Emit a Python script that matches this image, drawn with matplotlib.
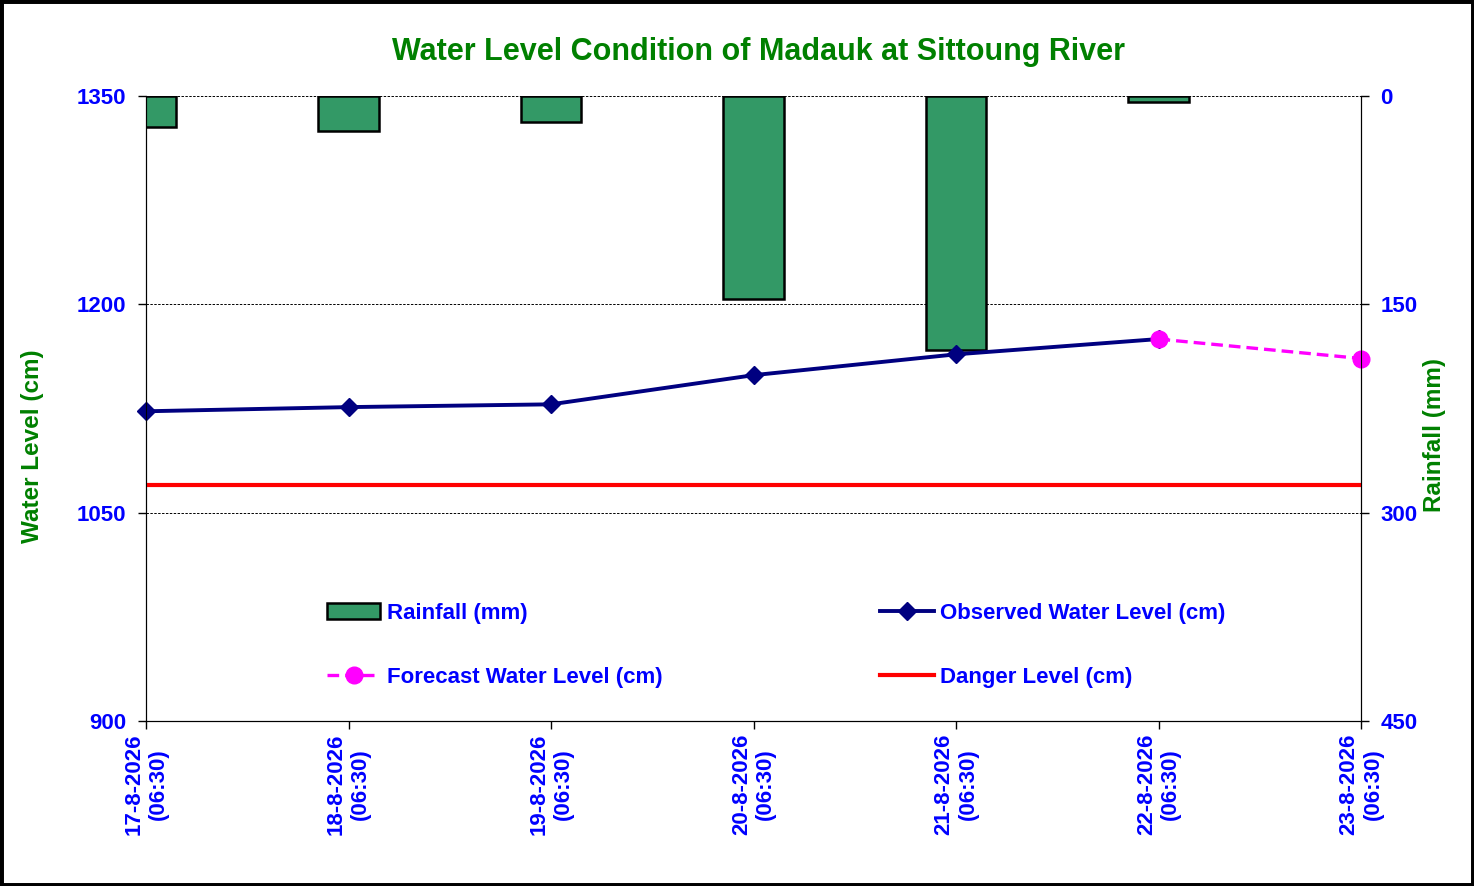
import numpy as np
import matplotlib
matplotlib.use("Agg")
import matplotlib.pyplot as plt
from matplotlib.patches import Rectangle

plt.rcParams['font.family'] = ['Liberation Sans', 'DejaVu Sans']
plt.rcParams['font.weight'] = 'bold'

dates = ["17-8-2026\n(06:30)", "18-8-2026\n(06:30)", "19-8-2026\n(06:30)",
         "20-8-2026\n(06:30)", "21-8-2026\n(06:30)", "22-8-2026\n(06:30)",
         "23-8-2026\n(06:30)"]
rainfall = [22, 25, 19, 146, 183, 4]
observed = [1123, 1126, 1128, 1149, 1164, 1175]
forecast = [1175, 1161]
danger = 1070

blue = '#0000FF'
green = '#008000'

x = np.arange(len(dates))

fig = plt.figure(figsize=(14.74, 8.86), dpi=100)
ax = fig.add_axes([146/1474, 1 - 721/886, (1361-146)/1474, (721-96)/886])
ax2 = ax.twinx()

# rainfall bars hang from the top on the inverted right axis
ax2.set_facecolor('#CCFFFF')
bars = ax2.bar(x[:len(rainfall)], rainfall, width=0.3, color='#339966',
               edgecolor='black', linewidth=1.8, label='Rainfall (mm)')
ax2.set_ylim(450, 0)
ax2.set_yticks([0, 150, 300, 450])
ax2.grid(axis='y', color='black', linestyle=(0, (2.5, 1.5)), linewidth=0.7)
ax2.set_axisbelow(True)

ax.set_zorder(ax2.get_zorder() + 1)
ax.patch.set_visible(False)

l_obs, = ax.plot(x[:len(observed)], observed, color='#000080', lw=2.8,
                 marker='D', ms=9.5, label='Observed Water Level (cm)',
                 clip_on=False)
l_fc, = ax.plot(x[len(observed)-1:], forecast, color='#FF00FF', lw=2.4,
                ls=(0, (3.5, 1.8)), marker='o', ms=12,
                label='Forecast Water Level (cm)', clip_on=False)
l_dg, = ax.plot(x, [danger] * len(x), color='#FF0000', lw=3,
                label='Danger Level (cm)')

ax.set_xlim(0, len(dates) - 1)
ax.set_ylim(900, 1350)
ax.set_yticks([900, 1050, 1200, 1350])
ax.set_xticks(x)
ax.set_xticklabels(dates, rotation=90, ha='center', va='top',
                   multialignment='center')

for a in (ax, ax2):
    a.spines['top'].set_visible(False)
    a.tick_params(axis='y', colors='black', labelcolor=blue, labelsize=16,
                  length=6, width=1, pad=8, direction='out')
    a.tick_params(axis='x', colors='black', labelcolor=blue, labelsize=16,
                  length=6, width=1, pad=3, direction='out')

fig.text(33/1474, 1 - 446/886, 'Water Level (cm)', rotation=90, color=green,
         fontsize=17.5, ha='center', va='center')
fig.text(1434/1474, 1 - 435/886, 'Rainfall (mm)', rotation=90, color=green,
         fontsize=17.5, ha='center', va='center')
fig.text(758/1474, 1 - 52/886, 'Water Level Condition of Madauk at Sittoung River',
         color=green, fontsize=22, ha='center', va='center')

leg = ax.legend([bars, l_fc, l_obs, l_dg],
                ['Rainfall (mm)', 'Forecast Water Level (cm)',
                 'Observed Water Level (cm)', 'Danger Level (cm)'],
                ncol=2, frameon=False, loc='lower left',
                bbox_to_anchor=(0.149, 0.053), borderpad=0, borderaxespad=0,
                fontsize=16, handlelength=2.4, handletextpad=0.3,
                columnspacing=9.8, labelspacing=1.95)
for t in leg.get_texts():
    t.set_color(blue)

fig.add_artist(Rectangle((0, 0), 1, 1, transform=fig.transFigure, fill=False,
                         edgecolor='black', linewidth=5))

fig.savefig('out.png', dpi=100)
